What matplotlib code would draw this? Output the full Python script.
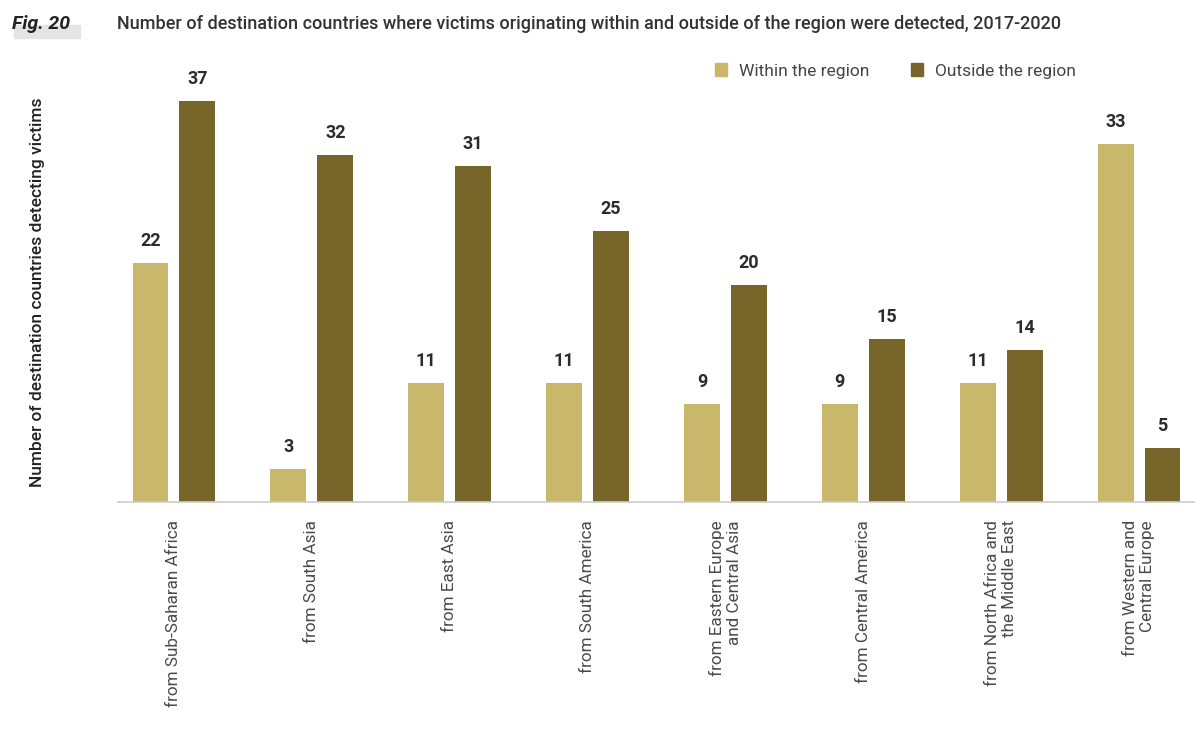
import matplotlib
matplotlib.use('Agg')
import matplotlib.pyplot as plt
import numpy as np
from matplotlib.patches import Patch

plt.rcParams['font.family'] = ['Roboto', 'DejaVu Sans']

# Data
regions = ['from Sub-Saharan Africa', 'from South Asia', 'from East Asia',
           'from South America', 'from Eastern Europe\nand Central Asia',
           'from Central America', 'from North Africa and\nthe Middle East',
           'from Western and\nCentral Europe']
within = [22, 3, 11, 11, 9, 9, 11, 33]
outside = [37, 32, 31, 25, 20, 15, 14, 5]

col_within = '#C9B76C'
col_outside = '#786529'

fig = plt.figure(figsize=(11.95, 7.29), dpi=100)
ax = fig.add_axes([118 / 1195, (729 - 502) / 729, (1195 - 118) / 1195, 434 / 729])

x = np.arange(len(regions))
w = 0.26
off = 0.17
b1 = ax.bar(x - off, within, w, color=col_within)
b2 = ax.bar(x + off, outside, w, color=col_outside)

for bars in (b1, b2):
    for rect in bars:
        h = rect.get_height()
        ax.text(rect.get_x() + rect.get_width() / 2, h + 1.2, str(int(h)),
                ha='center', va='bottom', fontsize=13, fontweight='bold', color='#2b2b2b')

ax.set_xlim(-0.406, 7.406)
ax.set_ylim(0, 40)
ax.set_yticks([])
ax.set_xticks(x)
ax.set_xticklabels(regions, rotation=90, fontsize=12.3, color='#4a4a4a',
                   ha='center', va='top', multialignment='right', linespacing=1.2)
ax.tick_params(axis='x', length=0, pad=13)
for s in ['top', 'right', 'left']:
    ax.spines[s].set_visible(False)
ax.spines['bottom'].set_color('#cccccc')
ax.spines['bottom'].set_linewidth(1.2)

ax.set_ylabel('Number of destination countries detecting victims', fontsize=12.5,
              color='#222222', fontweight='medium')
ax.yaxis.set_label_coords(-0.068, 0.484)

handles = [Patch(color=col_within, label='Within the region'),
           Patch(color=col_outside, label='Outside the region')]
fig.legend(handles=handles, ncol=2, frameon=False, fontsize=12.5,
           loc='center left', bbox_to_anchor=(699 / 1195, 1 - 71 / 729),
           handlelength=0.7, handleheight=0.7, handletextpad=0.7,
           columnspacing=2.4, labelcolor='#444444')

# Header
fig.patches.append(plt.Rectangle((14 / 1195, 1 - 38 / 729), 66 / 1195, 13 / 729,
                                 transform=fig.transFigure, color='#e4e4e4', zorder=0))
fig.text(12 / 1195, 1 - 24 / 729, 'Fig. 20', fontsize=14, fontweight='bold',
         fontstyle='italic', color='#222222', va='center')
fig.text(117 / 1195, 1 - 24 / 729,
         'Number of destination countries where victims originating within and outside of the region were detected, 2017-2020',
         fontsize=13, fontweight='medium', color='#333333', va='center')

fig.savefig('out.png', dpi=100)
